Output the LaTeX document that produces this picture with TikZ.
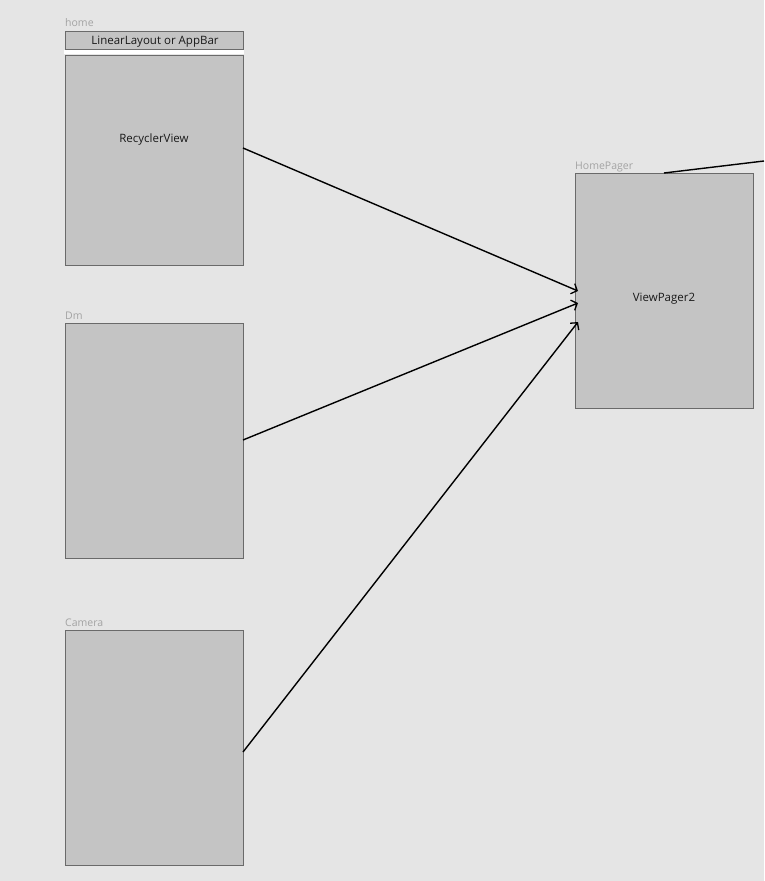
\documentclass[tikz,border=0pt]{standalone}
\usepackage{fontspec}
\setmainfont{Open Sans}
\usetikzlibrary{arrows.meta}
\definecolor{bg}{HTML}{E5E5E5}
\definecolor{boxfill}{HTML}{C4C4C4}
\definecolor{boxline}{HTML}{6A6A6A}
\definecolor{lbl}{HTML}{A3A3A3}
\begin{document}
\begin{tikzpicture}[x=1pt,y=-1pt,
  frame/.style={draw=boxline,fill=boxfill,line width=0.9pt},
  framelabel/.style={anchor=base west,inner sep=0pt,text=lbl,font=\fontsize{10.5}{12}\selectfont},
  inner/.style={inner sep=0pt,font=\fontsize{11.5}{13}\selectfont,text=black!90},
  conn/.style={draw=black,line width=1.4pt,-{Straight Barb[length=5pt,width=11pt,line width=1.3pt]}},
  plain/.style={draw=black,line width=1.4pt}]
\useasboundingbox[fill=bg] (0,0) rectangle (764,881);
% home frame
\node[framelabel] (homel) at (65,26) {home};
\fill[white] (64,49.5) rectangle (244,54);
\draw[frame] (65,31) rectangle (243,49);
\node[inner] (bar) at (155,41.5) {LinearLayout or AppBar};
\draw[frame] (65,55) rectangle (243,265);
\node[inner] (rv) at (154,139.5) {RecyclerView};
% Dm
\node[framelabel] (dml) at (65,319) {Dm};
\draw[frame] (65,323) rectangle (243,558);
% Camera
\node[framelabel] (caml) at (65,626) {Camera};
\draw[frame] (65,630) rectangle (243,865);
% HomePager
\node[framelabel] (hpl) at (575,169) {HomePager};
\draw[frame] (575,173) rectangle (753,408);
\node[inner] (vp) at (664,298.5) {ViewPager2};
% connector points
\coordinate (s1) at (243,148);
\coordinate (s2) at (243,440);
\coordinate (s3) at (243,752);
\coordinate (e1) at (578,291);
\coordinate (e2) at (578,303);
\coordinate (e3) at (578,322);
\coordinate (t0) at (664,173);
\coordinate (t1) at (764,161);
\draw[conn] (s1) -- (e1);
\draw[conn] (s2) -- (e2);
\draw[conn] (s3) -- (e3);
\draw[plain] (t0) -- (t1);
\end{tikzpicture}
\end{document}
